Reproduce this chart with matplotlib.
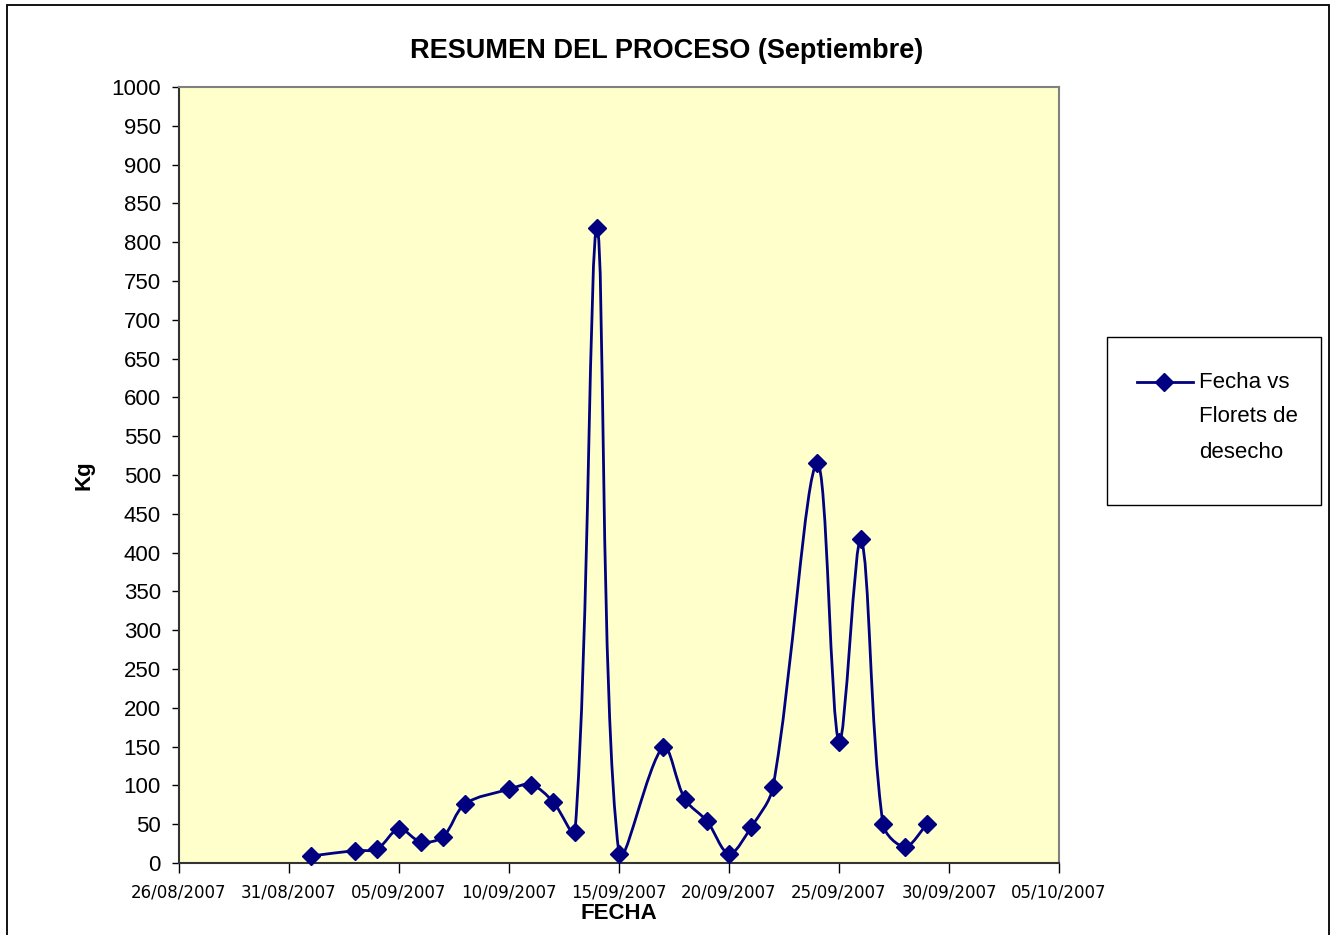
import matplotlib
matplotlib.use('Agg')
import matplotlib.pyplot as plt
import matplotlib.dates as mdates
from matplotlib import font_manager
from matplotlib.path import Path
from matplotlib.patches import PathPatch, Rectangle
from matplotlib.lines import Line2D
import numpy as np
import pandas as pd

# data (Kg of waste florets per day)
fechas = ['2007-09-01', '2007-09-03', '2007-09-04', '2007-09-05', '2007-09-06',
          '2007-09-07', '2007-09-08', '2007-09-10', '2007-09-11', '2007-09-12',
          '2007-09-13', '2007-09-14', '2007-09-15', '2007-09-17', '2007-09-18',
          '2007-09-19', '2007-09-20', '2007-09-21', '2007-09-22', '2007-09-24',
          '2007-09-25', '2007-09-26', '2007-09-27', '2007-09-28', '2007-09-29']
kg = [9, 16, 18, 44, 27, 34, 76, 95, 101, 79, 40, 818, 12, 149, 82,
      54, 12, 46, 98, 515, 156, 417, 50, 21, 50]
tick_fechas = ['2007-08-26', '2007-08-31', '2007-09-05', '2007-09-10', '2007-09-15',
               '2007-09-20', '2007-09-25', '2007-09-30', '2007-10-05']
y_ticks = list(range(0, 1001, 50))

navy = '#000080'
plt.rcParams['font.family'] = ['Liberation Sans', 'DejaVu Sans']

# narrow face for the bold labels if it's there
names = {f.name for f in font_manager.fontManager.ttflist}
if 'Liberation Sans Narrow' in names:
    bold_fam, title_size, lab_size = 'Liberation Sans Narrow', 22, 18
else:
    bold_fam, title_size, lab_size = 'Liberation Sans', 19.5, 16

fig = plt.figure(figsize=(13.34, 9.35), dpi=100)
W, H = 1334, 935
ax = fig.add_axes([179 / W, 1 - 863 / H, (1059 - 179) / W, (863 - 87) / H])
ax.set_facecolor('#FFFFCC')

tick_x = mdates.date2num(pd.to_datetime(tick_fechas))
ax.set_xlim(tick_x[0], tick_x[-1])
ax.set_ylim(0, 1000)

x = mdates.date2num(pd.to_datetime(fechas))
y = np.array(kg, dtype=float)

# Excel-like smoothed line: bezier with tangents scaled by segment length (screen space)
P = ax.transData.transform(np.column_stack([x, y]))
n = len(P)
verts = [P[0]]
codes = [Path.MOVETO]
for i in range(n - 1):
    p0 = P[i - 1] if i > 0 else P[i]
    p1, p2 = P[i], P[i + 1]
    p3 = P[i + 2] if i + 2 < n else P[i + 1]
    d01 = np.hypot(*(p1 - p0))
    d12 = np.hypot(*(p2 - p1))
    d23 = np.hypot(*(p3 - p2))
    c1 = p1 + (p2 - p0) * d12 / (d01 + d12) / 3
    c2 = p2 - (p3 - p1) * d12 / (d12 + d23) / 3
    verts += [c1, c2, p2]
    codes += [Path.CURVE4] * 3
verts = ax.transData.inverted().transform(np.array(verts))
ax.add_patch(PathPatch(Path(verts, codes), fill=False, edgecolor=navy, lw=2.0,
                       clip_on=False, zorder=3))
ax.plot(x, y, ls='none', marker='D', ms=9, color=navy, zorder=4, clip_on=False)

ax.set_xticks(tick_x)
ax.set_xticklabels(pd.to_datetime(tick_fechas).strftime('%d/%m/%Y'),
                   fontfamily='DejaVu Sans', fontsize=12)
ax.set_yticks(y_ticks)
ax.set_yticklabels([str(v) for v in y_ticks], fontsize=16)
ax.tick_params(axis='y', direction='out', length=5, width=1, pad=8)
ax.tick_params(axis='x', direction='out', length=7, width=1, pad=8)

for s in ['top', 'right']:
    ax.spines[s].set_color('#808080')
for s in ['left', 'bottom']:
    ax.spines[s].set_color('#333333')
for s in ax.spines.values():
    s.set_linewidth(1.5)

ax.set_xlabel('FECHA', fontsize=lab_size, fontweight='bold', fontfamily=bold_fam, labelpad=1)
ax.set_ylabel('Kg', fontsize=lab_size, fontweight='bold', fontfamily=bold_fam, labelpad=12)
fig.text(0.5, 1 - 51 / H, 'RESUMEN DEL PROCESO (Septiembre)', ha='center', va='center',
         fontsize=title_size, fontweight='bold', fontfamily=bold_fam)

# legend box
fig.add_artist(Rectangle((1107 / W, 1 - 505 / H), 214 / W, 168 / H, transform=fig.transFigure,
                         facecolor='white', edgecolor='black', lw=1))
fig.add_artist(Line2D([1137 / W, 1193 / W], [1 - 382 / H] * 2, transform=fig.transFigure,
                      color=navy, lw=2))
fig.add_artist(Line2D([1164 / W], [1 - 382 / H], transform=fig.transFigure,
                      color=navy, marker='D', ms=9, ls='none'))
for k, t in enumerate(['Fecha vs', 'Florets de', 'desecho']):
    fig.text(1199 / W, 1 - (382 + 35 * k) / H, t, ha='left', va='center', fontsize=16)

# outer chart border
fig.add_artist(Rectangle((7 / W, -0.05), (1329 - 7) / W, 1.05 - 5 / H, transform=fig.transFigure,
                         facecolor='none', edgecolor='black', lw=1.3))

fig.savefig('out.png', dpi=100)
